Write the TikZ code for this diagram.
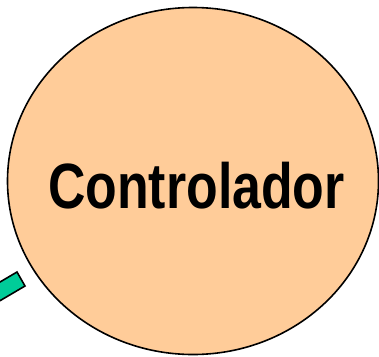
\documentclass[tikz,border=0pt]{standalone}
\usepackage{fontspec}
\setmainfont{Liberation Sans}
\usetikzlibrary{shapes.geometric}
\definecolor{peach}{HTML}{FFCC99}
\definecolor{barteal}{HTML}{00CC99}
\tikzset{
  ctrlbox/.style={ellipse, draw=black, line width=1.6pt, fill=peach, inner sep=0pt},
  barbox/.style={draw=black, line width=1.6pt, fill=barteal}
}
\begin{document}
\begin{tikzpicture}[x=1pt,y=-1pt]
\useasboundingbox (0,0) rectangle (379,356);
\clip (0,0) rectangle (379,356);
\node[ctrlbox, minimum width=371pt, minimum height=347pt] (ctrl) at (193,181) {};
\node[anchor=base] (lbl) at (196.5,208) {\scalebox{0.81}[1]{\fontsize{64}{64}\selectfont\bfseries Controlador}};
\filldraw[barbox] (17,272) -- (25,286) -- (-44,326.6) -- (-52,312.6) -- cycle;
\end{tikzpicture}
\end{document}
